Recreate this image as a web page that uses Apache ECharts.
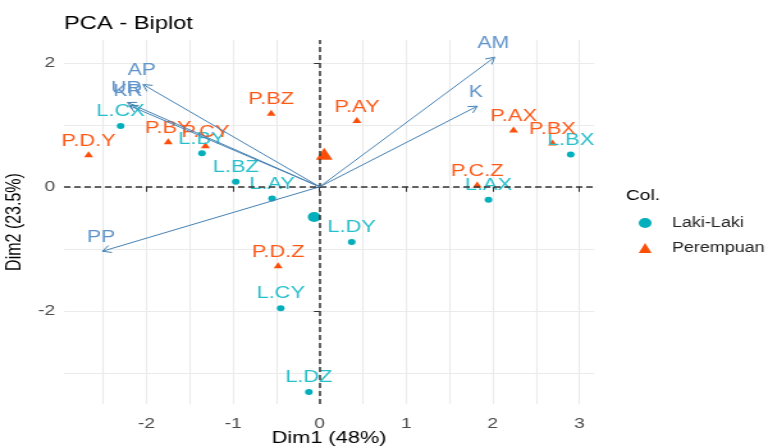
<!DOCTYPE html>
<html>
<head>
<meta charset="utf-8">
<script src="https://cdn.jsdelivr.net/npm/echarts@6/dist/echarts.min.js"></script>
<style>
  html, body { margin: 0; padding: 0; background: #fff; overflow: hidden; }
  /* the plot is laid out on a 600px canvas and widened to the 768px window */
  #chart { width: 600px; height: 447px; transform: scaleX(1.28); transform-origin: 0 0; }
</style>
</head>
<body>
<div id="chart"></div>
<script>
// Individuals (scores on the first two dimensions), by group
const lakiNames = ['L.CX', 'L.BY', 'L.BZ', 'L.AY', 'L.DY', 'L.CY', 'L.DZ', 'L.AX', 'L.BX'];
const lakiDim1  = [-2.30, -1.36, -0.97, -0.55, 0.37, -0.45, -0.125, 1.95, 2.90];
const lakiDim2  = [0.98, 0.54, 0.08, -0.19, -0.89, -1.96, -3.31, -0.21, 0.52];

const perempuanNames = ['P.D.Y', 'P.BY', 'P.CY', 'P.BZ', 'P.AY', 'P.AX', 'P.BX', 'P.C.Z', 'P.D.Z'];
const perempuanDim1  = [-2.67, -1.75, -1.32, -0.56, 0.43, 2.24, 2.69, 1.82, -0.48];
const perempuanDim2  = [0.51, 0.72, 0.655, 1.18, 1.06, 0.91, 0.70, 0.02, -1.28];

// Group mean points
const groupNames = ['Laki-Laki', 'Perempuan'];
const meanDim1 = [-0.064, 0.052];
const meanDim2 = [-0.487, 0.51];

// Variable loadings (arrow tips)
const varNames = ['AP', 'UR', 'KR', 'AM', 'K', 'PP'];
const varDim1  = [-2.04, -2.22, -2.20, 2.02, 1.82, -2.51];
const varDim2  = [1.65, 1.36, 1.31, 2.09, 1.30, -1.04];

// Axis ticks
const xTicks = [-2, -1, 0, 1, 2, 3];
const yTicks = [-2, 0, 2];

const xRange = [-2.954, 3.17];
const yRange = [-3.504, 2.368];

const colLaki = '#00AFBB';
const colPerempuan = '#FC4E07';
const colVar = '#4682B4';
const FONT = '"Liberation Sans", Arial, sans-serif';

function points(names, xs, ys) {
  return names.map((n, i) => ({ name: n, value: [xs[i], ys[i]] }));
}

const pointLabel = (color, dy) => ({
  show: true,
  formatter: '{b}',
  position: 'inside',
  offset: [0, dy],
  color: color,
  fontSize: 17,
  fontFamily: FONT
});

const gridLine = { show: true, showMinLine: false, showMaxLine: false, lineStyle: { color: '#ebebeb', width: 1.1 } };

const chart = echarts.init(document.getElementById('chart'), null, { renderer: 'canvas' });

chart.setOption({
  animation: false,
  backgroundColor: '#ffffff',
  title: [
    {
      text: 'PCA - Biplot', left: 50, top: 14.5, padding: 0,
      textStyle: { fontFamily: FONT, fontSize: 18.5, fontWeight: 'normal', color: '#000' }
    },
    {
      text: 'Col.', left: 489, top: 188, padding: 0,
      textStyle: { fontFamily: FONT, fontSize: 15, fontWeight: 'normal', color: '#000' }
    }
  ],
  legend: {
    orient: 'vertical',
    left: 499, top: 216,
    padding: 0,
    itemWidth: 10, itemHeight: 10,
    itemGap: 11,
    data: [
      { name: 'Laki-Laki', icon: 'circle' },
      { name: 'Perempuan', icon: 'triangle' }
    ],
    textStyle: { fontFamily: FONT, fontSize: 14, color: '#222', padding: [0, 0, 0, 11] }
  },
  grid: { left: 50, right: 135.9, top: 40, bottom: 43, outerBoundsMode: 'none' },
  xAxis: [
    {
      type: 'value', min: xRange[0], max: xRange[1],
      name: 'Dim1 (48%)', nameLocation: 'middle', nameGap: 26, nameMoveOverlap: false,
      nameTextStyle: { fontFamily: FONT, fontSize: 17, color: '#000' },
      axisLine: { show: false },
      axisTick: { show: true, customValues: xTicks, length: 5, lineStyle: { color: '#333', width: 1 } },
      axisLabel: { customValues: xTicks, margin: 12, fontFamily: FONT, fontSize: 15, color: '#4d4d4d' },
      splitLine: { show: false }
    },
    {
      // background grid, every half unit
      type: 'value', min: xRange[0], max: xRange[1],
      minInterval: 0.5, maxInterval: 0.5,
      axisLine: { show: false }, axisTick: { show: false }, axisLabel: { show: false },
      splitLine: gridLine
    }
  ],
  yAxis: [
    {
      type: 'value', min: yRange[0], max: yRange[1],
      name: 'Dim2 (23.5%)', nameLocation: 'middle', nameGap: 30, nameMoveOverlap: false,
      nameTextStyle: { fontFamily: FONT, fontSize: 16, color: '#000' },
      axisLine: { show: false },
      axisTick: { show: true, customValues: yTicks, length: 4.5, lineStyle: { color: '#333', width: 1 } },
      axisLabel: { customValues: yTicks, margin: 7, fontFamily: FONT, fontSize: 15, color: '#4d4d4d' },
      splitLine: { show: false }
    },
    {
      // background grid, every unit
      type: 'value', min: yRange[0], max: yRange[1],
      minInterval: 1, maxInterval: 1,
      axisLine: { show: false }, axisTick: { show: false }, axisLabel: { show: false },
      splitLine: gridLine
    }
  ],
  series: [
    {
      // dashed reference lines through the origin
      type: 'scatter', name: 'origin', data: [], z: 1, silent: true,
      markLine: {
        silent: true, symbol: 'none', label: { show: false },
        lineStyle: { type: [5, 3], color: '#333', width: 1.5 },
        data: [{ xAxis: 0 }, { yAxis: 0 }]
      }
    },
    {
      type: 'scatter', name: 'Laki-Laki', symbol: 'circle', symbolSize: 6, z: 3,
      itemStyle: { color: colLaki, opacity: 1 },
      label: pointLabel('#27bfca', -14.5),
      data: points(lakiNames, lakiDim1, lakiDim2)
    },
    {
      type: 'scatter', name: 'Perempuan', symbol: 'triangle', symbolSize: [7, 6], symbolOffset: [0, -1], z: 3,
      itemStyle: { color: colPerempuan, opacity: 1 },
      label: pointLabel('#fc5a18', -13),
      data: points(perempuanNames, perempuanDim1, perempuanDim2)
    },
    {
      type: 'scatter', name: 'Laki-Laki', symbol: 'circle', symbolSize: 10, z: 4,
      itemStyle: { color: colLaki, opacity: 1 },
      data: [[meanDim1[0], meanDim2[0]]]
    },
    {
      type: 'scatter', name: 'Perempuan', symbol: 'triangle', symbolSize: [13, 12], symbolOffset: [0, -1.5], z: 4,
      itemStyle: { color: colPerempuan, opacity: 1 },
      data: [[meanDim1[1], meanDim2[1]]]
    },
    {
      // variable arrows with open heads and labels
      type: 'custom', name: 'variables', z: 5, silent: true,
      data: varNames.map((n, i) => ({ name: n, value: [varDim1[i], varDim2[i]] })),
      renderItem: function (params, api) {
        const o = api.coord([0, 0]);
        const t = api.coord([api.value(0), api.value(1)]);
        const ang = Math.atan2(t[1] - o[1], t[0] - o[0]);
        const L = 7.5, a = Math.PI / 6;
        const p1 = [t[0] - L * Math.cos(ang - a), t[1] - L * Math.sin(ang - a)];
        const p2 = [t[0] - L * Math.cos(ang + a), t[1] - L * Math.sin(ang + a)];
        return {
          type: 'group',
          children: [
            { type: 'line', shape: { x1: o[0], y1: o[1], x2: t[0], y2: t[1] },
              style: { stroke: colVar, lineWidth: 1 } },
            { type: 'polyline', shape: { points: [p1, t, p2] },
              style: { stroke: colVar, fill: null, lineWidth: 1 } },
            { type: 'text', x: t[0] - 1, y: t[1] - 14,
              style: { text: varNames[params.dataIndex], fill: '#5f93c9',
                       font: '16.5px ' + FONT, align: 'center', verticalAlign: 'middle' } }
          ]
        };
      }
    }
  ]
});
</script>
</body>
</html>
